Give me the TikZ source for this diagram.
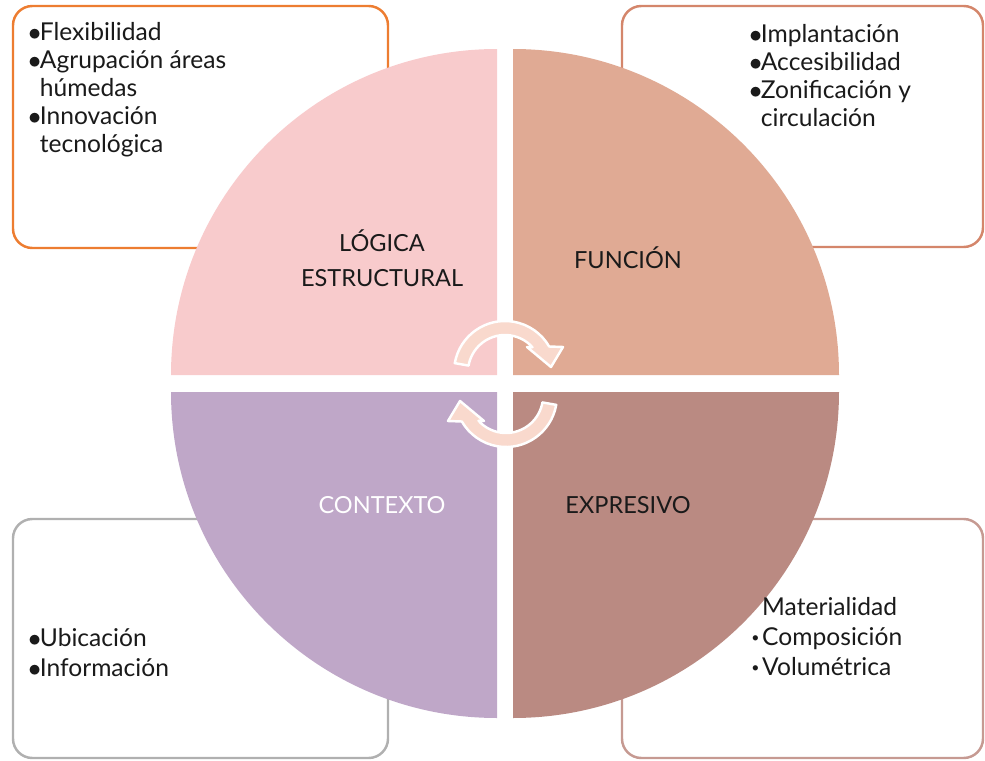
\documentclass[tikz,border=0pt]{standalone}
\usepackage{fontspec}
\setmainfont{Lato}
\usepackage{tikz}
\usetikzlibrary{calc}

\definecolor{logicafill}{HTML}{F8CBCC}
\definecolor{funcionfill}{HTML}{E0AA94}
\definecolor{contextofill}{HTML}{BFA7C8}
\definecolor{expresivofill}{HTML}{BA8A82}
\definecolor{arrowfill}{HTML}{F9D9CD}
\definecolor{logicaline}{HTML}{ED7D31}
\definecolor{funcionline}{HTML}{D4866B}
\definecolor{contextoline}{HTML}{B0B0B0}
\definecolor{expresivoline}{HTML}{C69A92}
\definecolor{labeltext}{HTML}{1A1A1A}

\newcommand{\bigbul}{\makebox[6pt][c]{$\bullet$}}
\newcommand{\smallbul}{\makebox[6.2pt][l]{\raisebox{1.6pt}{\fontsize{8pt}{8pt}\selectfont•}}}

\begin{document}
\begin{tikzpicture}[x=0.02cm, y=-0.02cm, line join=round,
    font=\fontsize{14pt}{15.9pt}\selectfont,
    infobox/.style={rounded corners=11pt, line width=1.4pt, fill=white},
    itemtext/.style={anchor=north west, inner sep=0pt, align=left, text=labeltext},
    sectorlabel/.style={inner sep=0pt, align=center, text=labeltext, font=\fontsize{13.4pt}{15.9pt}\selectfont},
    cyclearrow/.pic={
        \fill[arrowfill, draw=white, line width=1.4pt]
            (190:51) arc (190:330:51) -- (58,-25) -- (46,-5) -- (22,-25)
            -- (318:37) arc (318:190:37) -- cycle;
    }]

    % Page frame (reference size in pixels)
    \useasboundingbox (0,0) rectangle (985,761);

    % Corner boxes, behind the circle
    \draw[infobox, draw=logicaline] (13,6) rectangle (388,248);
    \draw[infobox, draw=funcionline] (622,6) rectangle (983,247);
    \draw[infobox, draw=contextoline] (13,519) rectangle (388,758);
    \draw[infobox, draw=expresivoline] (622,519) rectangle (983,758);

    % Centres of the four quarter discs
    \coordinate (tl) at (497,375);
    \coordinate (tr) at (513,375);
    \coordinate (bl) at (497,392);
    \coordinate (br) at (513,392);

    % Quarter discs
    \fill[logicafill] (tl) -- ++(180:326) arc (180:270:326) -- cycle;
    \fill[funcionfill] (tr) -- ++(270:326) arc (270:360:326) -- cycle;
    \fill[contextofill] (bl) -- ++(90:326) arc (90:180:326) -- cycle;
    \fill[expresivofill] (br) -- ++(0:326) arc (0:90:326) -- cycle;

    % Sector labels
    \node[sectorlabel, anchor=north, font=\fontsize{13.4pt}{20.4pt}\selectfont] (logica) at (382,229) {LÓGICA\\ESTRUCTURAL};
    \node[sectorlabel, anchor=base] (funcion) at (628,268) {FUNCIÓN};
    \node[sectorlabel, anchor=base, text=white] (contexto) at (382,513) {CONTEXTO};
    \node[sectorlabel, anchor=base] (expresivo) at (628,513) {EXPRESIVO};

    % Circular arrows in the middle
    \coordinate (ctop) at (505,372);
    \coordinate (cbot) at (506,396);
    \pic at (ctop) {cyclearrow};
    \pic[rotate=180] at (cbot) {cyclearrow};

    % Box texts
    \node[itemtext] (logicaitems) at (29,22) {\bigbul Flexibilidad\\
        \bigbul Agrupación áreas\\
        \hspace*{6pt}húmedas\\
        \bigbul Innovación\\
        \hspace*{6pt}tecnológica};
    \node[itemtext] (funcionitems) at (750,24) {\bigbul Implantación\\
        \bigbul Accesibilidad\\
        \bigbul Zonificación y\\
        \hspace*{6pt}circulación};
    \node[itemtext, font=\fontsize{14pt}{17pt}\selectfont] (contextoitems) at (29,628) {\bigbul Ubicación\\
        \bigbul Información};
    \node[itemtext, font=\fontsize{14pt}{17pt}\selectfont] (expresivoitems) at (751,597) {\hspace*{6.2pt}Materialidad\\
        \smallbul Composición\\
        \smallbul Volumétrica};

\end{tikzpicture}
\end{document}
